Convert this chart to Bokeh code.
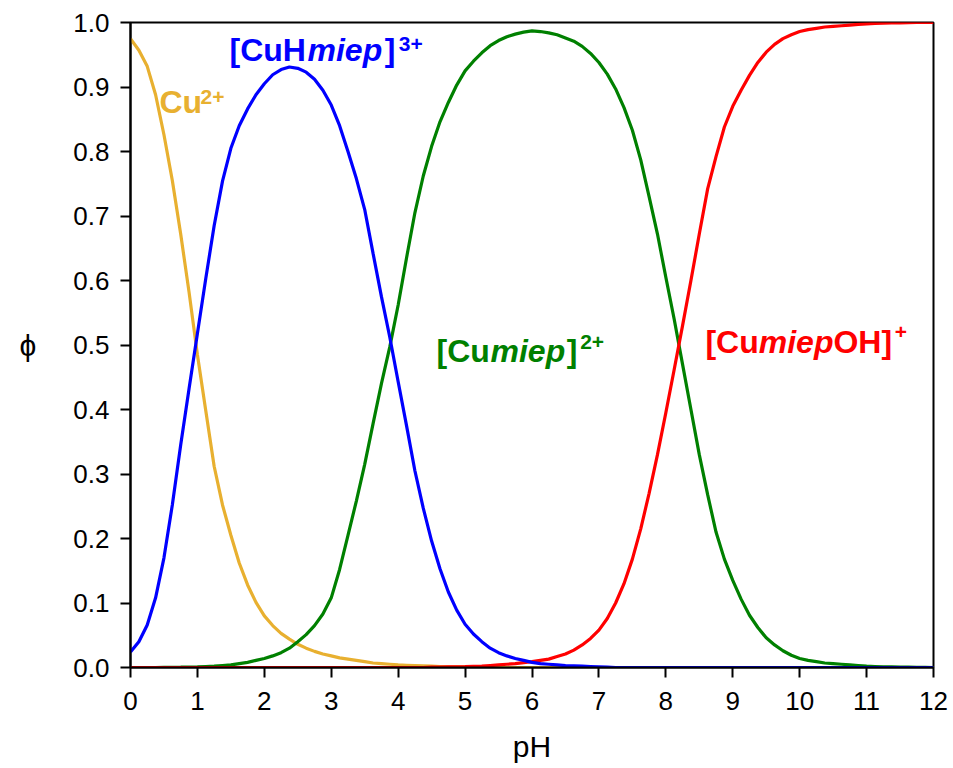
from bokeh.plotting import figure
from bokeh.models import Label, Range1d, FixedTicker, NumeralTickFormatter
from bokeh.embed import file_html
from bokeh.resources import INLINE

# ---- data (species fraction vs pH) ----
ph = [0.000, 0.125, 0.250, 0.375, 0.500, 0.625, 0.750, 0.875,
      1.000, 1.125, 1.250, 1.375, 1.500, 1.625, 1.750, 1.875,
      2.000, 2.125, 2.250, 2.375, 2.500, 2.625, 2.750, 2.875,
      3.000, 3.125, 3.250, 3.375, 3.500, 3.625, 3.750, 3.875,
      4.000, 4.125, 4.250, 4.375, 4.500, 4.625, 4.750, 4.875,
      5.000, 5.125, 5.250, 5.375, 5.500, 5.625, 5.750, 5.875,
      6.000, 6.125, 6.250, 6.375, 6.500, 6.625, 6.750, 6.875,
      7.000, 7.125, 7.250, 7.375, 7.500, 7.625, 7.750, 7.875,
      8.000, 8.125, 8.250, 8.375, 8.500, 8.625, 8.750, 8.875,
      9.000, 9.125, 9.250, 9.375, 9.500, 9.625, 9.750, 9.875,
      10.000, 10.125, 10.250, 10.375, 10.500, 10.625, 10.750, 10.875,
      11.000, 11.125, 11.250, 11.375, 11.500, 11.625, 11.750, 11.875,
      12.000]

cu = [0.975, 0.957, 0.932, 0.888, 0.826, 0.755, 0.672, 0.582,
      0.485, 0.398, 0.312, 0.252, 0.205, 0.162, 0.128, 0.101,
      0.080, 0.065, 0.053, 0.044, 0.036, 0.030, 0.025, 0.021,
      0.018, 0.015, 0.013, 0.011, 0.009, 0.007, 0.006, 0.005,
      0.004, 0.0035, 0.003, 0.0025, 0.002, 0.0015, 0.001, 0.001,
      0.001, 0.0005, 0.0, 0.0, 0.0, 0.0, 0.0, 0.0,
      0.0, 0.0, 0.0, 0.0, 0.0, 0.0, 0.0, 0.0,
      0.0, 0.0, 0.0, 0.0, 0.0, 0.0, 0.0, 0.0,
      0.0, 0.0, 0.0, 0.0, 0.0, 0.0, 0.0, 0.0,
      0.0, 0.0, 0.0, 0.0, 0.0, 0.0, 0.0, 0.0,
      0.0, 0.0, 0.0, 0.0, 0.0, 0.0, 0.0, 0.0,
      0.0, 0.0, 0.0, 0.0, 0.0, 0.0, 0.0, 0.0,
      0.0]

cuh_miep = [0.024, 0.040, 0.066, 0.108, 0.170, 0.252, 0.345, 0.432,
            0.518, 0.603, 0.685, 0.754, 0.805, 0.840, 0.866, 0.888,
            0.905, 0.919, 0.927, 0.931, 0.929, 0.923, 0.912, 0.895,
            0.872, 0.840, 0.800, 0.758, 0.710, 0.642, 0.575, 0.512,
            0.443, 0.375, 0.305, 0.247, 0.196, 0.153, 0.117, 0.089,
            0.067, 0.052, 0.040, 0.030, 0.023, 0.018, 0.014, 0.011,
            0.008, 0.006, 0.005, 0.004, 0.003, 0.0025, 0.002, 0.0015,
            0.001, 0.0005, 0.0, 0.0, 0.0, 0.0, 0.0, 0.0,
            0.0, 0.0, 0.0, 0.0, 0.0, 0.0, 0.0, 0.0,
            0.0, 0.0, 0.0, 0.0, 0.0, 0.0, 0.0, 0.0,
            0.0, 0.0, 0.0, 0.0, 0.0, 0.0, 0.0, 0.0,
            0.0, 0.0, 0.0, 0.0, 0.0, 0.0, 0.0, 0.0,
            0.0]

cu_miep = [0.0, 0.0, 0.0, 0.0, 0.0002, 0.0003, 0.0005, 0.0008,
           0.001, 0.0015, 0.002, 0.003, 0.004, 0.006, 0.008, 0.011,
           0.014, 0.018, 0.023, 0.030, 0.040, 0.051, 0.065, 0.083,
           0.108, 0.152, 0.205, 0.258, 0.315, 0.378, 0.440, 0.497,
           0.562, 0.635, 0.705, 0.762, 0.808, 0.846, 0.876, 0.903,
           0.925, 0.940, 0.953, 0.964, 0.972, 0.978, 0.982, 0.985,
           0.987, 0.986, 0.984, 0.981, 0.976, 0.971, 0.963, 0.952,
           0.938, 0.920, 0.897, 0.868, 0.833, 0.787, 0.730, 0.672,
           0.605, 0.540, 0.470, 0.400, 0.330, 0.268, 0.210, 0.168,
           0.135, 0.106, 0.081, 0.062, 0.046, 0.035, 0.026, 0.019,
           0.014, 0.011, 0.009, 0.007, 0.006, 0.005, 0.004, 0.003,
           0.002, 0.0015, 0.001, 0.001, 0.0007, 0.0005, 0.0003, 0.0002,
           0.0]

cu_miep_oh = [0.0, 0.0, 0.0, 0.0, 0.0, 0.0, 0.0, 0.0,
              0.0, 0.0, 0.0, 0.0, 0.0, 0.0, 0.0, 0.0,
              0.0, 0.0, 0.0, 0.0, 0.0, 0.0, 0.0, 0.0,
              0.0, 0.0, 0.0, 0.0, 0.0, 0.0, 0.0, 0.0,
              0.0, 0.0, 0.0, 0.0, 0.0005, 0.0007, 0.001, 0.001,
              0.0013, 0.0017, 0.002, 0.003, 0.004, 0.005, 0.006, 0.0075,
              0.009, 0.011, 0.013, 0.017, 0.021, 0.027, 0.035, 0.045,
              0.058, 0.076, 0.100, 0.130, 0.168, 0.215, 0.270, 0.330,
              0.395, 0.462, 0.530, 0.600, 0.672, 0.742, 0.792, 0.838,
              0.870, 0.895, 0.918, 0.938, 0.954, 0.966, 0.975, 0.981,
              0.986, 0.989, 0.991, 0.993, 0.994, 0.995, 0.996, 0.997,
              0.998, 0.9985, 0.999, 0.9993, 0.9995, 0.9997, 1.0, 1.0,
              1.0]

x_ticks = [0, 1, 2, 3, 4, 5, 6, 7, 8, 9, 10, 11, 12]
y_ticks = [0.0, 0.1, 0.2, 0.3, 0.4, 0.5, 0.6, 0.7, 0.8, 0.9, 1.0]

YELLOW = "#E8B030"
BLUE = "#0000FF"
GREEN = "#008000"
RED = "#FF0000"
FONT = "Liberation Sans"

p = figure(frame_width=803, frame_height=645,
           x_range=Range1d(0, 12), y_range=Range1d(0, 1),
           output_backend="svg", toolbar_location=None,
           min_border_left=130, min_border_right=15,
           min_border_top=22, min_border_bottom=96)

p.background_fill_color = "white"
p.border_fill_color = "white"
p.outline_line_color = "black"
p.outline_line_width = 2
p.xgrid.visible = False
p.ygrid.visible = False

p.xaxis.ticker = FixedTicker(ticks=x_ticks)
p.yaxis.ticker = FixedTicker(ticks=y_ticks)
p.yaxis.formatter = NumeralTickFormatter(format="0.0")

for ax in (p.xaxis, p.yaxis):
    ax.axis_line_width = 2
    ax.axis_line_color = "black"
    ax.major_tick_line_width = 2
    ax.major_tick_line_color = "black"
    ax.major_tick_in = 0
    ax.major_tick_out = 10
    ax.minor_tick_line_color = None
    ax.major_label_text_font = FONT
    ax.major_label_text_font_size = "26px"
    ax.major_label_text_color = "black"
    ax.axis_label_text_font = FONT
    ax.axis_label_text_font_size = "30px"
    ax.axis_label_text_font_style = "normal"
    ax.axis_label_text_color = "black"

p.xaxis.axis_label = "pH"
p.xaxis.major_label_standoff = 14
p.xaxis.axis_label_standoff = 17
p.yaxis.axis_label = "ϕ"
p.yaxis.major_label_standoff = 11
p.yaxis.axis_label_standoff = 34
try:
    p.yaxis.axis_label_orientation = "horizontal"
except Exception:
    pass

LW = 3.2
p.line(ph, cu, line_color=YELLOW, line_width=LW)
p.line(ph, cu_miep, line_color=GREEN, line_width=LW)
p.line(ph, cu_miep_oh, line_color=RED, line_width=LW)
p.line(ph, cuh_miep, line_color=BLUE, line_width=LW)


def lab(x, y, text, color, style="bold", size="32px"):
    p.add_layout(Label(x=x, y=y, text=text, text_color=color,
                       text_font=FONT, text_font_style=style,
                       text_font_size=size, text_align="left",
                       text_baseline="alphabetic"))


# Cu2+
lab(0.433, 0.877, "Cu", YELLOW)
lab(1.046, 0.885, "2+", YELLOW, size="21px")
# [CuHmiep]3+
lab(1.479, 0.957, "[CuH", BLUE)
lab(2.645, 0.957, "miep", BLUE, style="bold italic")
lab(3.800, 0.957, "]", BLUE)
lab(4.010, 0.966, "3+", BLUE, size="21px")
# [Cumiep]2+
lab(4.573, 0.491, "[Cu", GREEN)
lab(5.380, 0.491, "miep", GREEN, style="bold italic")
lab(6.520, 0.491, "]", GREEN)
lab(6.720, 0.505, "2+", GREEN, size="21px")
# [CumiepOH]+
lab(8.592, 0.504, "[Cu", RED)
lab(9.389, 0.504, "miep", RED, style="bold italic")
lab(10.505, 0.504, "OH]", RED)
lab(11.420, 0.520, "+", RED, size="21px")

open("out.html", "w").write(file_html(p, INLINE))
